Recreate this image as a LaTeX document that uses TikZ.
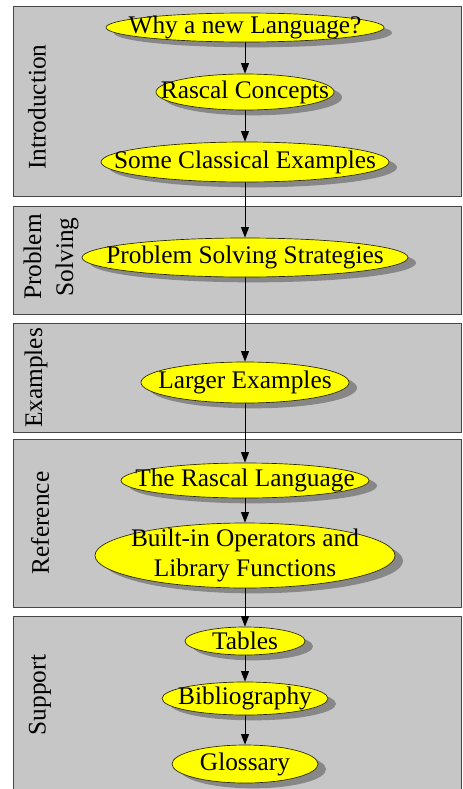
\documentclass[tikz,border=0pt]{standalone}
\usepackage{fontspec}
\setmainfont{Liberation Serif}
\usetikzlibrary{shapes.geometric,shadows,arrows.meta}

\begin{document}
\begin{tikzpicture}[x=0.75pt,y=0.75pt,yscale=-1,xscale=1,
    part/.style={draw={rgb, 255:red, 70; green, 70; blue, 70}, fill={rgb, 255:red, 198; green, 198; blue, 198}, line width=0.75},
    partname/.style={rotate=90, inner sep=0.75pt, align=center, font=\fontsize{19}{24}\selectfont},
    topic/.style={ellipse, draw={rgb, 255:red, 40; green, 40; blue, 0}, fill={rgb, 255:red, 255; green, 255; blue, 0}, inner sep=0pt, line width=0.5,
      drop shadow={shadow xshift=6pt, shadow yshift=-4pt, fill={rgb, 255:red, 135; green, 135; blue, 135}, opacity=1},
      label={[inner sep=0pt, align=center, font=\fontsize{19}{22.5}\selectfont]center:#1}},
    flow/.style={-{Triangle[length=8pt,width=6pt]}, line width=0.75}]
        \useasboundingbox (0,0) rectangle (462,789);

        %Shapes: the five parts
        \draw [part] (13,6) rectangle (461,196) ;
        \draw [part] (13,206) rectangle (461,314) ;
        \draw [part] (13,323) rectangle (461,432) ;
        \draw [part] (13,439) rectangle (461,607) ;
        \draw [part] (13,616) rectangle (461,795) ;

        % Part names
        \node [partname] (nintro) at (37,107) {Introduction};
        \node [partname] (nsolve) at (51,257) {Problem\\Solving};
        \node [partname] (nexamples) at (36,378) {Examples};
        \node [partname] (nreference) at (40,523) {Reference};
        \node [partname] (nsupport) at (40,695) {Support};

        % Topics
        \node [topic={Why a new Language?}, minimum width=208.5pt, minimum height=21.75pt] (why) at (245,27.5) {};
        \node [topic={Rascal Concepts}, minimum width=133.5pt, minimum height=27pt] (concepts) at (245,92) {};
        \node [topic={Some Classical Examples}, minimum width=216pt, minimum height=30pt] (classic) at (245,162) {};
        \node [topic={Problem Solving Strategies}, minimum width=244.5pt, minimum height=29.25pt] (solving) at (245,257.5) {};
        \node [topic={Larger Examples}, minimum width=156pt, minimum height=30.75pt] (larger) at (245,382.5) {};
        \node [topic={The Rascal Language}, minimum width=186pt, minimum height=26.25pt] (language) at (245,480.5) {};
        \node [topic={Built-in Operators and\\Library Functions}, minimum width=225pt, minimum height=48.75pt] (builtin) at (245,555.5) {};
        \node [topic={Tables}, minimum width=90pt, minimum height=21pt] (tables) at (245,641) {};
        \node [topic={Bibliography}, minimum width=124.5pt, minimum height=24.75pt] (biblio) at (245,698.5) {};
        \node [topic={Glossary}, minimum width=109.5pt, minimum height=28.5pt] (glossary) at (245,764) {};

        % Arrows
        \foreach \a/\b in {why/concepts, concepts/classic, classic/solving, solving/larger, larger/language, language/builtin, builtin/tables, tables/biblio, biblio/glossary}
            \draw [flow] (\a) -- (\b) ;

    \end{tikzpicture}
\end{document}
